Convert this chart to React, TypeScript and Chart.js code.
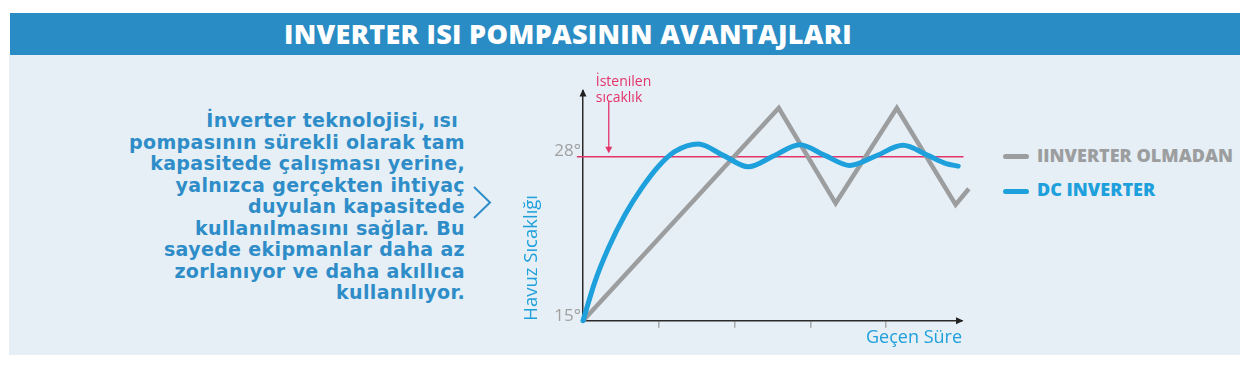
import React, { useEffect, useRef } from "react";
import { Chart, registerables } from "chart.js";

Chart.register(...registerables);

const pageTitle = "INVERTER ISI POMPASININ AVANTAJLARI";
const paragraphLines = [
  "İnverter teknolojisi, ısı ",
  "pompasının sürekli olarak tam",
  "kapasitede çalışması yerine,",
  "yalnızca gerçekten ihtiyaç",
  "duyulan kapasitede",
  "kullanılmasını sağlar. Bu",
  "sayede ekipmanlar daha az",
  "zorlanıyor ve daha akıllıca",
  "kullanılıyor.",
];
const seriesNames = ["IINVERTER OLMADAN", "DC INVERTER"];
const seriesColors = ["#9c9d9f", "#1ea0dc"];
const targetColor = "#e3336b";
const targetLabel = ["İstenilen", "sıcaklık"];
const yAxisTitle = "Havuz Sıcaklığı";
const xAxisTitle = "Geçen Süre";
const yTickValues = [15, 28];
const xTickValues = [1, 2, 3, 4];
const targetTemp = 28;
const targetX = [-0.08, 5.02];
const targetMarkerX = 0.34;

const noInverterX = [0, 2.583, 3.333, 4.14, 4.916, 5.09];
const noInverterY = [15, 31.85, 24.3, 31.85, 24.2, 25.45];

const dcInverterX = [0, 0.158, 0.334, 0.554, 0.774, 0.994, 1.214, 1.52, 1.85, 2.18, 2.52, 2.86, 3.19, 3.52, 3.87, 4.22, 4.55, 4.79, 4.95];
const dcInverterY = [15, 18.1, 20.74, 23.39, 25.5, 27.22, 28.41, 29.0, 28.1, 27.2, 28.07, 28.94, 28.1, 27.3, 28.07, 28.9, 28.1, 27.45, 27.25];

const FONT = "'Open Sans', sans-serif";

const decorPlugin = {
  id: "decor",
  afterDraw(chart: any) {
    const { ctx, chartArea, scales } = chart;
    const xs = scales.x;
    const ys = scales.y;
    const ox = chartArea.left;
    const oy = chartArea.bottom;
    ctx.save();
    ctx.fillStyle = "#222";
    const top = chartArea.top;
    ctx.beginPath();
    ctx.moveTo(ox, top - 2);
    ctx.lineTo(ox - 3.5, top + 5.5);
    ctx.lineTo(ox + 3.5, top + 5.5);
    ctx.closePath();
    ctx.fill();
    const right = chartArea.right;
    ctx.beginPath();
    ctx.moveTo(right + 1.5, oy);
    ctx.lineTo(right - 6, oy - 3.5);
    ctx.lineTo(right - 6, oy + 3.5);
    ctx.closePath();
    ctx.fill();
    const ax = xs.getPixelForValue(targetMarkerX);
    const ay = ys.getPixelForValue(targetTemp);
    ctx.fillStyle = targetColor;
    ctx.strokeStyle = targetColor;
    ctx.font = `14px ${FONT}`;
    ctx.textAlign = "left";
    ctx.textBaseline = "alphabetic";
    ctx.fillText(targetLabel[0], ax - 13, ay - 70.5);
    ctx.fillText(targetLabel[1], ax - 13, ay - 55);
    ctx.lineWidth = 1.3;
    ctx.beginPath();
    ctx.moveTo(ax, ay - 56);
    ctx.lineTo(ax, ay - 8);
    ctx.stroke();
    ctx.beginPath();
    ctx.moveTo(ax, ay - 3.5);
    ctx.lineTo(ax - 3.5, ay - 10);
    ctx.lineTo(ax + 3.5, ay - 10);
    ctx.closePath();
    ctx.fill();
    ctx.restore();
  },
};

function PoolChart() {
  const ref = useRef<HTMLCanvasElement | null>(null);
  useEffect(() => {
    if (!ref.current) return;
    const chart = new Chart(ref.current, {
      type: "line",
      data: {
        datasets: [
          {
            label: seriesNames[1],
            data: dcInverterX.map((x, i) => ({ x, y: dcInverterY[i] })),
            borderColor: seriesColors[1],
            borderWidth: 5,
            pointRadius: 0,
            cubicInterpolationMode: "monotone",
            borderCapStyle: "round",
            clip: false,
          },
          {
            label: seriesNames[0],
            data: noInverterX.map((x, i) => ({ x, y: noInverterY[i] })),
            borderColor: seriesColors[0],
            borderWidth: 4.5,
            pointRadius: 0,
            tension: 0,
            borderCapStyle: "butt",
            borderJoinStyle: "miter",
            clip: false,
          },
          {
            label: "target",
            data: targetX.map((x) => ({ x, y: targetTemp })),
            borderColor: targetColor,
            borderWidth: 1.5,
            pointRadius: 0,
            clip: false,
          },
        ],
      } as any,
      options: {
        responsive: false,
        animation: false,
        devicePixelRatio: 1,
        layout: { padding: { top: 31, right: 38, left: 0, bottom: 0 } },
        plugins: { legend: { display: false }, tooltip: { enabled: false } },
        scales: {
          x: {
            type: "linear",
            min: 0,
            max: 5,
            afterFit: (s: any) => {
              s.height = 34.3;
            },
            afterBuildTicks: (s: any) => {
              s.ticks = xTickValues.map((v) => ({ value: v }));
            },
            ticks: { display: false },
            grid: {
              display: true,
              drawOnChartArea: false,
              drawTicks: true,
              tickLength: 7,
              color: "#a8a8a8",
              lineWidth: 1.5,
            },
            border: { display: true, color: "#2a2a2a", width: 1.5 },
            title: {
              display: true,
              text: xAxisTitle,
              align: "end",
              color: seriesColors[1],
              font: { size: 18, family: FONT },
              padding: { top: 0, bottom: 6 },
            },
          },
          y: {
            type: "linear",
            min: 15,
            max: 33.2,
            afterFit: (s: any) => {
              s.width = 63;
            },
            afterBuildTicks: (s: any) => {
              s.ticks = yTickValues.map((v) => ({ value: v }));
            },
            ticks: {
              callback: (v: any) => `${v}°`,
              color: "#a0a0a0",
              font: { size: 17, family: FONT },
              padding: 2,
              labelOffset: -5,
            },
            grid: { display: false, drawTicks: false },
            border: { display: true, color: "#2a2a2a", width: 1.5 },
            title: {
              display: true,
              text: yAxisTitle,
              align: "start",
              color: seriesColors[1],
              font: { size: 18.5, family: FONT },
              padding: { top: 1, bottom: 0 },
            },
          },
        },
      } as any,
      plugins: [decorPlugin],
    });
    return () => chart.destroy();
  }, []);
  return (
    <canvas
      ref={ref}
      width={480}
      height={295}
      style={{ position: "absolute", left: 520, top: 60, width: 480, height: 295 }}
    />
  );
}

export default function App() {
  useEffect(() => {
    document.body.style.margin = "0";
  }, []);
  return (
    <div
      style={{
        position: "relative",
        width: 1249,
        height: 366,
        background: "#ffffff",
        overflow: "hidden",
        fontFamily: FONT,
      }}
    >
      <div style={{ position: "absolute", left: 9, top: 55, width: 1231, height: 300, background: "#e6eff5" }} />
      <div style={{ position: "absolute", left: 10, top: 13, width: 1230, height: 42, background: "#2a8cc4" }} />
      <div
        style={{
          position: "absolute",
          left: 284,
          top: 20.3,
          fontSize: 27,
          lineHeight: "27px",
          fontWeight: 800,
          letterSpacing: "0.3px",
          color: "#ffffff",
          whiteSpace: "pre",
        }}
      >
        {pageTitle}
      </div>
      <div
        style={{
          position: "absolute",
          left: 0,
          top: 110,
          width: 465,
          textAlign: "right",
          fontFamily: "'DejaVu Sans', sans-serif",
          fontSize: 19,
          lineHeight: "21.5px",
          fontWeight: 700,
          letterSpacing: "0.35px",
          color: "#2e8dc8",
        }}
      >
        {paragraphLines.map((l, i) => (
          <div key={i} style={{ whiteSpace: "pre" }}>
            {l}
          </div>
        ))}
      </div>
      <svg style={{ position: "absolute", left: 0, top: 0 }} width={1249} height={366}>
        <polyline points="474,187 490,202.5 474,218" fill="none" stroke="#2e8dc8" strokeWidth={2} />
      </svg>
      {seriesNames.map((name, i) => (
        <React.Fragment key={name}>
          <div
            style={{
              position: "absolute",
              left: 1003,
              top: (i === 0 ? 156 : 191) - 2.5,
              width: 26,
              height: 5,
              borderRadius: 3,
              background: seriesColors[i],
            }}
          />
          <div
            style={{
              position: "absolute",
              left: 1037,
              top: i === 0 ? 146.3 : 180,
              fontSize: 18,
              lineHeight: "18px",
              fontWeight: 800,
              color: seriesColors[i],
              whiteSpace: "pre",
            }}
          >
            {name}
          </div>
        </React.Fragment>
      ))}
      <PoolChart />
    </div>
  );
}
